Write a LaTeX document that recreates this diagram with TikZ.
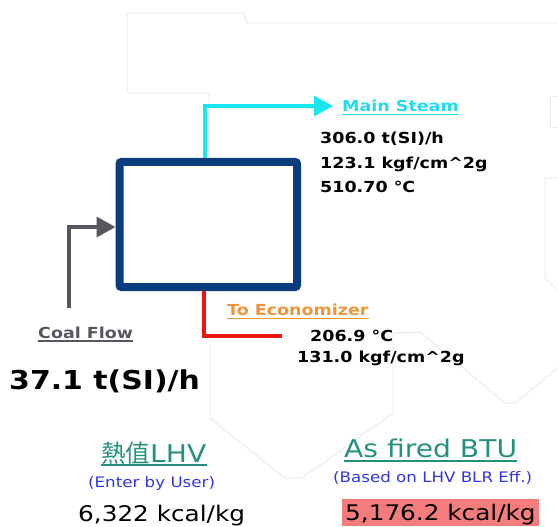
\documentclass[tikz,border=0pt]{standalone}
\usepackage{fontspec}
\usepackage{tikz}
\usetikzlibrary{arrows.meta}
\setmainfont{DejaVu Sans}[FakeStretch=1.15]
\newfontfamily\cjkfont{Noto Sans CJK TC}
\definecolor{blrNavy}{HTML}{0B3D7E}
\definecolor{steamCyan}{HTML}{18E8EE}
\definecolor{steamText}{HTML}{22DCEA}
\definecolor{coalGray}{HTML}{56565E}
\definecolor{econRed}{HTML}{F01414}
\definecolor{econOrange}{HTML}{F2943A}
\definecolor{heatTeal}{HTML}{23917D}
\definecolor{noteBlue}{HTML}{3434E0}
\definecolor{calcPink}{HTML}{F47C7C}
\definecolor{bgLine}{HTML}{EBEBEB}
\newcommand{\fsz}[1]{\fontsize{#1}{#1}\selectfont}
\tikzset{
  boiler/.style={draw=blrNavy,line width=8pt,rounded corners=2pt,
    minimum width=177.5pt,minimum height=125pt,inner sep=0pt},
  pipe/.style={line width=3.5pt},
  flow/.style={pipe,-{Triangle[length=19pt,width=20pt]}},
  datatext/.style={anchor=base west,inner sep=0pt,font=\fsz{15.2}\bfseries},
  bigvalue/.style={anchor=base west,inner sep=0pt,font=\fsz{21.5}},
  heading/.style={anchor=base west,inner sep=0pt,font=\fsz{24.5},text=heatTeal},
  note/.style={anchor=base west,inner sep=0pt,font=\fsz{14.5},text=noteBlue},
  ul/.style 2 args={append after command={\pgfextra{\let\ulnode\tikzlastnode}
    ([yshift=-#1]\ulnode.base west) edge[draw=#2,line width=1.4pt] ([yshift=-#1]\ulnode.base east)}},
  faint/.style={draw=bgLine,line width=1pt}
}
\begin{document}
\begin{tikzpicture}[x=1pt,y=-1pt]
  \useasboundingbox (0,0) rectangle (558,527);
  % background outlines
  \draw[faint] (558,23) -- (247,23) -- (244,13) -- (127,13) -- (127,93) -- (209,93) -- (209,158);
  \draw[faint] (558,97) -- (550,97) -- (550,128) -- (558,128);
  \draw[faint] (558,178) -- (545,178) -- (545,278) -- (558,290);
  \draw[faint] (210,345) -- (210,418) -- (285,478) -- (302,478) -- (393,413) -- (393,333)
    -- (420,332) -- (505,403) -- (515,403) -- (558,368);

  % boiler
  \node[boiler] (blr) at (208.25,224.5) {};

  % main steam
  \coordinate (msTip) at (333,106);
  \draw[flow,draw=steamCyan] ([xshift=-3.25pt]blr.north) |- (msTip);
  \node[datatext,text=steamText,ul={2.5pt}{steamText}] (ms) at (342,112) {Main Steam};
  \node[datatext] (msFlow) at (320,143) {306.0 t(SI)/h};
  \node[datatext] (msPres) at (320,168) {123.1 kgf/cm\textasciicircum 2g};
  \node[datatext] (msTemp) at (320,193) {510.70 °C};

  % coal flow
  \coordinate (coalFoot) at (69,308);
  \draw[flow,draw=coalGray] (coalFoot) |- ([yshift=-2.5pt]blr.west);
  \node[datatext,text=coalGray,ul={3pt}{coalGray}] (coal) at (38,338) {Coal Flow};
  \node[anchor=base west,inner sep=0pt,font=\fsz{26}\bfseries] (coalVal) at (9,389) {37.1 t(SI)/h};

  % economizer
  \coordinate (ecoEnd) at (282,336);
  \draw[pipe,draw=econRed] ([xshift=-4.25pt]blr.south) |- (ecoEnd);
  \node[datatext,text=econOrange,ul={2.5pt}{econOrange}] (eco) at (227,316) {To Economizer};
  \node[datatext] (ecoTemp) at (310,341) {206.9 °C};
  \node[datatext] (ecoPres) at (297,362) {131.0 kgf/cm\textasciicircum 2g};

  % heating values
  \node[heading,ul={3pt}{heatTeal}] (lhv) at (101,462) {{\cjkfont 熱值}LHV};
  \node[note] (lhvNote) at (88,487) {(Enter by User)};
  \node[bigvalue] (lhvVal) at (78,521) {6,322 kcal/kg};
  \node[heading,ul={4pt}{heatTeal}] (btu) at (344,457) {As fired BTU};
  \node[note] (btuNote) at (333,482) {(Based on LHV BLR Eff.)};
  \node[bigvalue,fill=calcPink,inner xsep=3pt,text height=21pt,text depth=6pt] (btuVal)
    at (342,520) {5,176.2 kcal/kg};
\end{tikzpicture}
\end{document}
